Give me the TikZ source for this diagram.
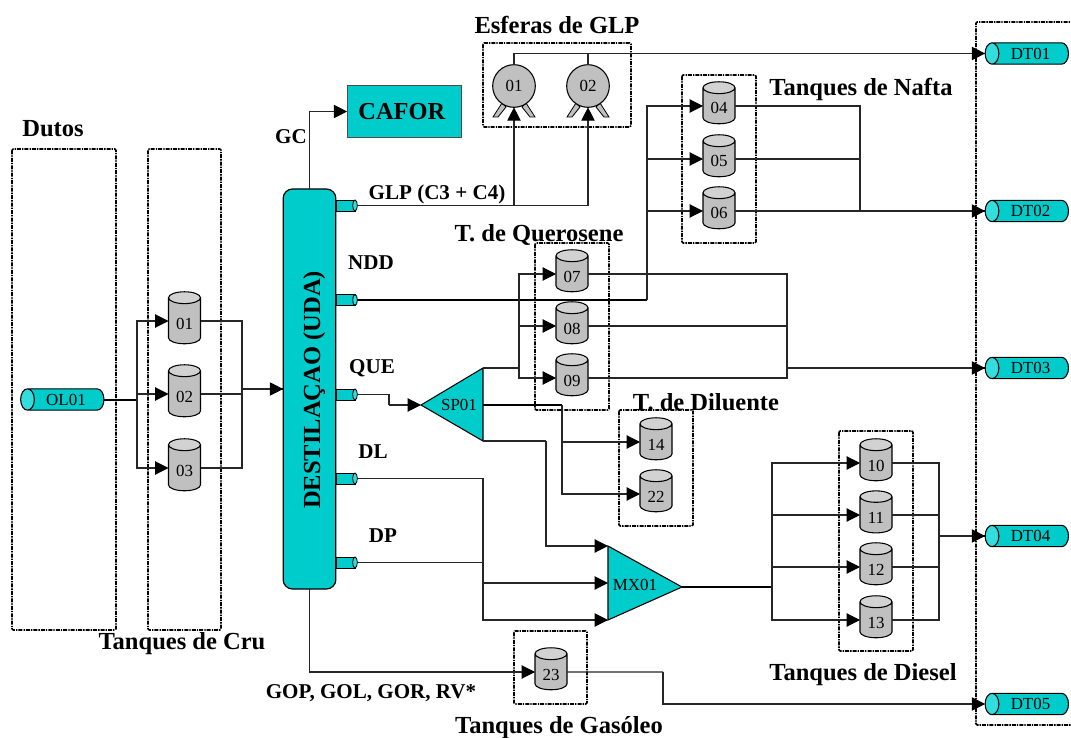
\documentclass[tikz,border=0pt]{standalone}
\usepackage{fontspec}
\setmainfont{Liberation Serif}
\usetikzlibrary{arrows.meta,shapes.geometric}
\definecolor{tealfill}{HTML}{00CCCC}
\definecolor{tealcap}{HTML}{33DDDD}
\definecolor{tankfill}{HTML}{C0C0C0}
\definecolor{tankcap}{HTML}{D2D2D2}
\begin{document}
\begin{tikzpicture}[x=0.75pt,y=-0.75pt,
    pipe/.style={draw=black!85, line width=0.8pt, -{Triangle[length=10pt,width=10pt,color=black]}},
    plainpipe/.style={draw=black!85, line width=0.8pt},
    mainpipe/.style={draw=black, line width=1.5pt},
    groupbox/.style={draw=black, line width=1.2pt, dash pattern=on 3pt off 0.8pt on 1pt off 0.8pt, rounded corners=1pt},
    tank/.style={cylinder, shape border rotate=90, aspect=0.7, draw=black, line width=0.8pt, inner sep=0pt, outer sep=0pt,
        cylinder uses custom fill, cylinder body fill=tankfill, cylinder end fill=tankcap,
        minimum width=24pt, minimum height=31.5pt, text height=12pt, text depth=0pt, font=\fontsize{12.7}{14}\selectfont},
    crutank/.style={tank, minimum height=39pt},
    duct/.style={cylinder, shape border rotate=180, aspect=1.2, draw=black, line width=0.8pt, inner sep=0pt, outer sep=0pt,
        cylinder uses custom fill, cylinder body fill=tealfill, cylinder end fill=tealcap,
        minimum width=16pt, minimum height=62.5pt, font=\fontsize{12.7}{14}\selectfont},
    nozzle/.style={rectangle, draw=black, line width=0.6pt, fill=tealfill, inner sep=0pt, outer sep=0pt,
        minimum width=14pt, minimum height=8.25pt},
    nozzlecap/.style={ellipse, draw=black, line width=0.6pt, fill=tealcap, inner sep=0pt, outer sep=0pt,
        minimum width=3.5pt, minimum height=8.25pt},
    sphere/.style={circle, draw=black, line width=0.8pt, fill=tankfill, inner sep=0pt, outer sep=0pt,
        minimum size=32pt, font=\fontsize{12.7}{14}\selectfont},
    leg/.style={draw=black, line width=0.6pt, fill=tankfill},
    mixer/.style={draw=black, line width=0.8pt, fill=tealfill},
    tag/.style={font=\fontsize{12.7}{14}\selectfont},
    title/.style={font=\bfseries\fontsize{18.4}{20}\selectfont},
    stream/.style={font=\bfseries\fontsize{15.8}{18}\selectfont}]
        \useasboundingbox (0,0) rectangle (1071,738);

        % group boxes
        \draw[groupbox] (12,149) rectangle (116,630);
        \draw[groupbox] (148,149) rectangle (221,630);
        \draw[groupbox] (483,43) rectangle (631,127);
        \draw[groupbox] (682,75) rectangle (756,243);
        \draw[groupbox] (535,243) rectangle (609,410);
        \draw[groupbox] (619,410) rectangle (693,526);
        \draw[groupbox] (839,431) rectangle (913,651);
        \draw[groupbox] (514,631) rectangle (587,704);
        \draw[groupbox] (1075,22) -- (976,22) -- (976,725) -- (1075,725);

        % titles
        \node[title] (tdutos) at (53,129) {Dutos};
        \node[title] (tcru) at (182,644) {Tanques de Cru};
        \node[title] (tesferas) at (557,25) {Esferas de GLP};
        \node[title] (tnafta) at (861,89) {Tanques de Nafta};
        \node[title] (tquerosene) at (539,235) {T. de Querosene};
        \node[title] (tdiluente) at (706,402) {T. de Diluente};
        \node[title] (tdiesel) at (863,675) {Tanques de Diesel};
        \node[title] (tgasoleo) at (559,728) {Tanques de Gasóleo};

        % stream names
        \node[stream] (lgc) at (291,137) {GC};
        \node[stream] (lglp) at (437,194) {GLP (C3 + C4)};
        \node[stream] (lndd) at (371,263) {NDD};
        \node[stream] (lque) at (372,368) {QUE};
        \node[stream] (ldl) at (373,452) {DL};
        \node[stream] (ldp) at (383,536) {DP};
        \node[stream] (lgop) at (371,693) {GOP, GOL, GOR, RV*};

        % tower and nozzles
        \node[rotate=90, draw=black, line width=0.9pt, fill=tealfill, rounded corners=7pt, outer sep=0pt,
            minimum width=300pt, minimum height=39.5pt] (uda) at (309.5,389) {};
        \node[rotate=90, anchor=base, font=\bfseries\fontsize{18.4}{20}\selectfont] (luda) at (320,390) {DESTILAÇAO (UDA)};
        \node[nozzle] (nglp) at (346,205.5) {};
        \node[nozzlecap] (cglp) at (355,205.5) {};
        \node[nozzle] (nndd) at (346,300) {};
        \node[nozzlecap] (cndd) at (355,300) {};
        \node[nozzle] (nque) at (346,394.5) {};
        \node[nozzlecap] (cque) at (355,394.5) {};
        \node[nozzle] (ndl) at (346,478.5) {};
        \node[nozzlecap] (cdl) at (355,478.5) {};
        \node[nozzle] (ndp) at (346,562.5) {};
        \node[nozzlecap] (cdp) at (355,562.5) {};

        % cafor
        \node[draw=black!70, line width=0.9pt, fill=tealfill, minimum width=86pt, minimum height=39.5pt, outer sep=0pt,
            font=\bfseries\fontsize{18.3}{20}\selectfont] (cafor) at (404.5,111.5) {CAFOR\hspace*{4pt}};

        % ducts
        \node[duct] (ol01) at (66,399.5) {OL01};
        \node[duct] (dt01) at (1030.5,53.5) {DT01};
        \node[duct] (dt02) at (1030.5,211) {DT02};
        \node[duct] (dt03) at (1030.5,368) {DT03};
        \node[duct] (dt04) at (1030.5,536) {DT04};
        \node[duct] (dt05) at (1030.5,704) {DT05};

        % crude tanks
        \node[crutank] (t01) at (184.5,321) {01};
        \node[crutank] (t02) at (184.5,394) {02};
        \node[crutank] (t03) at (184.5,468) {03};

        % product tanks
        \node[tank] (t04) at (719,106) {04};
        \node[tank] (t05) at (719,159) {05};
        \node[tank] (t06) at (719,211) {06};
        \node[tank] (t07) at (572,274) {07};
        \node[tank] (t08) at (572,326) {08};
        \node[tank] (t09) at (572,378) {09};
        \node[tank] (t14) at (656,442) {14};
        \node[tank] (t22) at (656,494) {22};
        \node[tank] (t10) at (876,463) {10};
        \node[tank] (t11) at (876,515) {11};
        \node[tank] (t12) at (876,567) {12};
        \node[tank] (t13) at (876,620) {13};
        \node[tank] (t23) at (551,672) {23};

        % spheres
        \coordinate (pe01) at (514,86);
        \coordinate (pe02) at (588,86);
        \draw[leg] (pe01) ++(-21,31) -- ++(9,-14) -- ++(4,4) -- ++(-8,10) -- cycle;
        \draw[leg] (pe01) ++(21,31) -- ++(-9,-14) -- ++(-4,4) -- ++(8,10) -- cycle;
        \draw[leg] (pe02) ++(-21,31) -- ++(9,-14) -- ++(4,4) -- ++(-8,10) -- cycle;
        \draw[leg] (pe02) ++(21,31) -- ++(-9,-14) -- ++(-4,4) -- ++(8,10) -- cycle;
        \node[sphere] (e01) at (pe01) {01};
        \node[sphere] (e02) at (pe02) {02};

        % splitter and mixer
        \coordinate (spa) at (483,368);
        \coordinate (spb) at (421,405);
        \coordinate (spc) at (483,441);
        \coordinate (spd) at (483,405);
        \draw[mixer] (spa) -- (spb) -- (spc) -- cycle;
        \node[tag] (sp01) at (459,405) {SP01};
        \coordinate (mxa) at (608,546);
        \coordinate (mxb) at (682,587);
        \coordinate (mxc) at (608,620);
        \draw[mixer] (mxa) -- (mxb) -- (mxc) -- cycle;
        \node[tag] (mx01) at (635,585) {MX01};

        % junctions
        \coordinate (jol) at (137,399.5);
        \coordinate (jcru) at (242,389);
        \coordinate (jfeed) at (389,405);
        \coordinate (jque) at (519,368);
        \coordinate (jdil) at (562,405);
        \coordinate (jmix) at (546,441);
        \coordinate (jndd) at (647,300);
        \coordinate (jnaf) at (860,211);
        \coordinate (jker) at (787,368);
        \coordinate (jdp) at (483,562.5);
        \coordinate (jmxb) at (483,583);
        \coordinate (jout) at (772,587);
        \coordinate (jdie) at (939,536);
        \coordinate (jgas) at (663,672);

        % crude
        \draw[mainpipe] (ol01.east) -- (jol |- ol01.east);
        \draw[pipe] (jol) |- (t01.west);
        \draw[pipe] (jol) |- (t02.west);
        \draw[pipe] (jol) |- (t03.west);
        \draw[plainpipe] (t01.east) -| (jcru);
        \draw[plainpipe] (t02.east) -| (jcru);
        \draw[plainpipe] (t03.east) -| (jcru);
        \draw[mainpipe] (jcru) -- (jcru -| uda.north);
        \draw[pipe] (jcru) -- (jcru -| uda.north);

        % gas
        \draw[pipe] (uda.east) |- (cafor.west);

        % glp
        \draw[pipe] (cglp.east) -| (e01.south);
        \draw[pipe] (cglp.east) -| (e02.south);
        \draw[plainpipe] (e01.north) |- (dt01.west);
        \draw[pipe] (e02.north) |- (dt01.west);

        % nafta
        \draw[mainpipe] (cndd.east) -| (jndd);
        \draw[mainpipe] (jndd) -- (jndd |- t06.west);
        \draw[pipe] (jndd) |- (t04.west);
        \draw[pipe] (jndd) |- (t05.west);
        \draw[pipe] (jndd) |- (t06.west);
        \draw[plainpipe] (t04.east) -| (jnaf);
        \draw[plainpipe] (t05.east) -| (jnaf);
        \draw[plainpipe] (t06.east) -| (jnaf);
        \draw[mainpipe] (jnaf) -- (jnaf -| dt02.west);
        \draw[pipe] (jnaf) -- (jnaf -| dt02.west);

        % querosene
        \draw[plainpipe] (cque.east) -| (jfeed);
        \draw[pipe] (jfeed) -- (spb);
        \draw[plainpipe] (spa) -- (jque);
        \draw[pipe] (jque) |- (t07.west);
        \draw[pipe] (jque) |- (t08.west);
        \draw[pipe] (jque) |- (t09.west);
        \draw[plainpipe] (t07.east) -| (jker);
        \draw[plainpipe] (t08.east) -| (jker);
        \draw[plainpipe] (t09.east) -| (jker);
        \draw[mainpipe] (jker) -- (jker -| dt03.west);
        \draw[pipe] (jker) -- (jker -| dt03.west);

        % diluente
        \draw[mainpipe, line width=1.2pt] (spd) -- (jdil);
        \draw[pipe] (jdil) |- (t14.west);
        \draw[pipe] (jdil) |- (t22.west);

        % diesel
        \draw[plainpipe] (spc) -- (jmix);
        \draw[pipe] (jmix) |- (mxa);
        \draw[plainpipe] (cdl.east) -| (jdp);
        \draw[plainpipe] (cdp.east) -- (jdp);
        \draw[plainpipe] (jdp) -- (jmxb);
        \draw[pipe] (jmxb) -- (jmxb -| mxa);
        \draw[pipe] (jmxb) |- (mxc);
        \draw[mainpipe] (mxb) -- (jout);
        \draw[pipe] (jout) |- (t10.west);
        \draw[pipe] (jout) |- (t11.west);
        \draw[pipe] (jout) |- (t12.west);
        \draw[pipe] (jout) |- (t13.west);
        \draw[plainpipe] (t10.east) -| (jdie);
        \draw[plainpipe] (t11.east) -| (jdie);
        \draw[plainpipe] (t12.east) -| (jdie);
        \draw[plainpipe] (t13.east) -| (jdie);
        \draw[mainpipe] (jdie) -- (jdie -| dt04.west);
        \draw[pipe] (jdie) -- (jdie -| dt04.west);

        % gasoleo
        \draw[pipe] (uda.west) |- (t23.west);
        \draw[plainpipe] (t23.east) -- (jgas);
        \draw[pipe] (jgas) |- (dt05.west);
    \end{tikzpicture}
\end{document}
